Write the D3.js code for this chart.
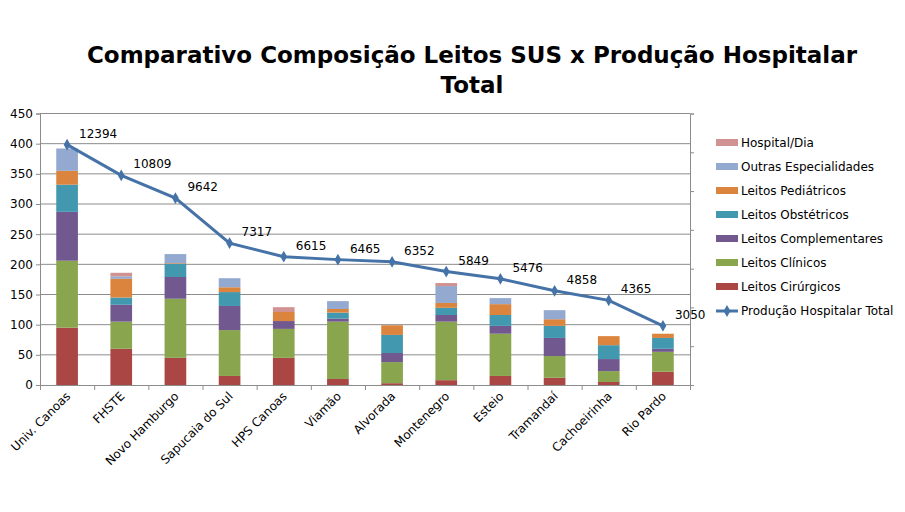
<!DOCTYPE html><html><head><meta charset="utf-8"><script src="https://cdn.jsdelivr.net/npm/d3@7"></script>
<style>body{margin:0;background:#fff}svg{font-family:Verdana,"DejaVu Sans",sans-serif}</style></head><body><svg width="905" height="512"></svg><script>
const categories=["Univ. Canoas","FHSTE","Novo Hamburgo","Sapucaia do Sul","HPS Canoas","Viamão","Alvorada","Montenegro","Esteio","Tramandaí","Cachoeirinha","Rio Pardo"];
const cirurgicos=[95,60,45,15,45,10,3,8,15,12,5,22];
const clinicos=[111,45,98,76,48,95,35,97,70,36,18,33];
const complementares=[81,28,36,40,13,5,15,11,13,30,20,5];
const obstetricos=[45,12,22,23,0,10,30,12,18,20,23,18];
const pediatricos=[23,31,1,8,15,6,16,8,18,11,15,7];
const outras=[37,4,15,15,0,13,0,28,10,15,0,0];
const hospitalDia=[0,6,0,0,8,0,0,5,0,0,0,0];
const producao=[12394,10809,9642,7317,6615,6465,6352,5849,5476,4858,4365,3050];
const leftTicks=[0,50,100,150,200,250,300,350,400,450];
const seriesNames=["Leitos Cirúrgicos","Leitos Clínicos","Leitos Complementares","Leitos Obstétricos","Leitos Pediátricos","Outras Especialidades","Hospital/Dia"];
const seriesData=[cirurgicos,clinicos,complementares,obstetricos,pediatricos,outras,hospitalDia];
const colors=["#AA4643","#89A54E","#71588F","#4198AF","#DB843D","#93A9CF","#D19392"];
const lineColor="#4572A7";
const svg=d3.select("svg");
const L=40,R=690,T=113.5,B=385;
const x=d3.scaleBand().domain(categories).range([L,R]).paddingInner(0.6).paddingOuter(0.3);
const y=d3.scaleLinear().domain([0,450]).range([B,T]);
const y2=d3.scaleLinear().domain([0,14000]).range([B,T]);
svg.append("text").attr("x",472).attr("y",63).attr("text-anchor","middle").attr("font-size",23).attr("font-weight","bold").text("Comparativo Composição Leitos SUS x Produção Hospitalar");
svg.append("text").attr("x",472).attr("y",93).attr("text-anchor","middle").attr("font-size",23).attr("font-weight","bold").text("Total");
svg.append("g").selectAll("line").data(leftTicks.slice(1)).join("line").attr("x1",L).attr("x2",R).attr("y1",d=>y(d)).attr("y2",d=>y(d)).attr("stroke","#8c8c8c");
const ya=svg.append("g").attr("transform",`translate(${L},0)`).call(d3.axisLeft(y).tickValues(leftTicks).tickSize(4));
ya.selectAll("text").attr("font-size",12).attr("font-family","Verdana,DejaVu Sans");
const ya2=svg.append("g").attr("transform",`translate(${R},0)`).call(d3.axisRight(y2).ticks(7).tickSize(4).tickFormat(""));
const xa=svg.append("g").attr("transform",`translate(0,${B})`).call(d3.axisBottom(d3.scalePoint().domain(d3.range(13)).range([L,R])).tickSize(5).tickFormat(""));
[ya,ya2,xa].forEach(a=>{a.selectAll("path,line").attr("stroke","#8c8c8c");});
categories.forEach(c=>{const cx=x(c)+x.bandwidth()/2;
 svg.append("text").attr("transform",`translate(${cx+4},${B+12}) rotate(-45)`).attr("text-anchor","end").attr("font-size",12).text(c);});
const rows=categories.map((c,i)=>{const o={cat:c};seriesNames.forEach((s,j)=>o[s]=seriesData[j][i]);return o;});
const stack=d3.stack().keys(seriesNames)(rows);
svg.append("g").selectAll("g").data(stack).join("g").attr("fill",(d,i)=>colors[i])
 .selectAll("rect").data(d=>d).join("rect").attr("x",d=>x(d.data.cat)).attr("width",x.bandwidth())
 .attr("y",d=>y(d[1])).attr("height",d=>y(d[0])-y(d[1]));
const cxf=(d,i)=>x(categories[i])+x.bandwidth()/2;
svg.append("path").datum(producao).attr("fill","none").attr("stroke",lineColor).attr("stroke-width",3)
 .attr("d",d3.line().x(cxf).y(d=>y2(d)));
const dia=d3.symbol().type(d3.symbolDiamond).size(40);
svg.append("g").selectAll("path").data(producao).join("path").attr("d",dia).attr("fill",lineColor)
 .attr("transform",(d,i)=>`translate(${cxf(d,i)},${y2(d)})`);
svg.append("g").selectAll("text").data(producao).join("text").attr("x",(d,i)=>cxf(d,i)+12).attr("y",d=>y2(d)-7)
 .attr("font-size",12).attr("font-family","Verdana,DejaVu Sans").text(d=>d);
const leg=[...seriesNames.map((s,i)=>({s,c:colors[i]}))].reverse();
leg.forEach((d,i)=>{const yy=143+i*24;
 svg.append("rect").attr("x",716).attr("y",yy-4).attr("width",22).attr("height",7).attr("fill",d.c);
 svg.append("text").attr("x",741).attr("y",yy+4).attr("font-size",12).text(d.s);});
const ly=143+7*24;
svg.append("line").attr("x1",716).attr("x2",738).attr("y1",ly).attr("y2",ly).attr("stroke",lineColor).attr("stroke-width",3);
svg.append("path").attr("d",dia).attr("fill",lineColor).attr("transform",`translate(727,${ly})`);
svg.append("text").attr("x",741).attr("y",ly+4).attr("font-size",12).text("Produção Hospitalar Total");
</script></body></html>
